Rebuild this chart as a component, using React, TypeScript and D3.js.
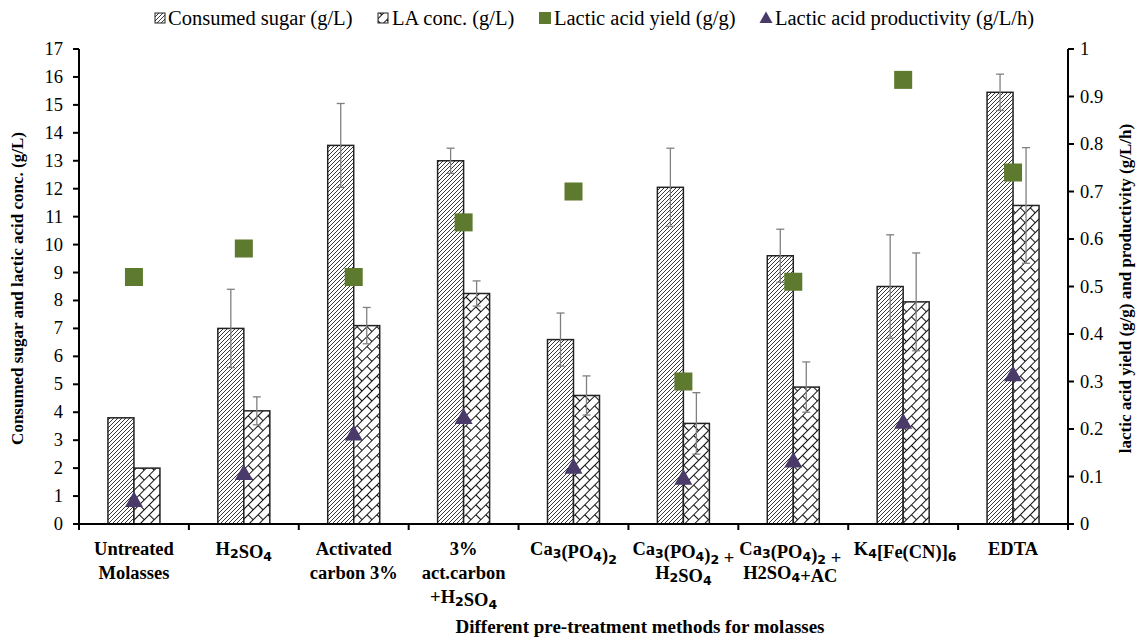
import React from 'react';
import * as d3 from 'd3';

// "_" marks the next character as a subscript
const categories = [
  ['Untreated', 'Molasses'],
  ['H_2SO_4'],
  ['Activated', 'carbon 3%'],
  ['3%', 'act.carbon', '+H_2SO_4'],
  ['Ca_3(PO_4)_2'],
  ['Ca_3(PO_4)_2 +', 'H_2SO_4'],
  ['Ca_3(PO_4)_2 +', 'H2SO_4+AC'],
  ['K_4[Fe(CN)]_6'],
  ['EDTA'],
];

const consumedSugar = [3.8, 7.0, 13.55, 13.0, 6.6, 12.05, 9.6, 8.5, 15.45];
const consumedSugarErr = [0, 1.4, 1.5, 0.45, 0.95, 1.4, 0.95, 1.85, 0.65];
const laConc = [2.0, 4.05, 7.1, 8.25, 4.6, 3.6, 4.9, 7.95, 11.4];
const laConcErr = [0, 0.5, 0.65, 0.45, 0.7, 1.1, 0.9, 1.75, 2.07];
const yieldVals = [0.52, 0.58, 0.52, 0.635, 0.7, 0.3, 0.51, 0.935, 0.74];
const productivity = [0.05, 0.107, 0.19, 0.225, 0.12, 0.097, 0.133, 0.215, 0.315];

const leftTicks = d3.range(0, 18, 1);
const rightTicks = d3.range(0, 11, 1).map((d) => d / 10);

const W = 1137;
const H = 637;
const M = { left: 79, right: 1068, top: 49, bottom: 524 };
const FONT = '"Liberation Serif", "Times New Roman", serif';
const GREEN = '#5e7a2f';
const PURPLE = '#4a3a6a';
const ERR = '#808080';

function richLine(s: string) {
  const parts: React.ReactNode[] = [];
  let buf = '';
  let k = 0;
  for (let i = 0; i < s.length; i++) {
    if (s[i] === '_' && i + 1 < s.length) {
      if (buf) parts.push(<tspan key={k++}>{buf}</tspan>);
      buf = '';
      parts.push(
        <tspan key={k++} fontFamily="DejaVu Sans" fontSize={12.5} dy={3}>
          {s[i + 1]}
        </tspan>
      );
      parts.push(<tspan key={k++} dy={-3}>{''}</tspan>);
      i++;
    } else {
      buf += s[i];
    }
  }
  if (buf) parts.push(<tspan key={k++}>{buf}</tspan>);
  return parts;
}

export default function App() {
  const x = d3
    .scaleBand<number>()
    .domain(categories.map((_, i) => i))
    .range([M.left, M.right])
    .padding(0);
  const yL = d3.scaleLinear().domain([0, 17]).range([M.bottom, M.top]);
  const yR = d3.scaleLinear().domain([0, 1]).range([M.bottom, M.top]);
  const bw = 26;
  const center = (i: number) => (x(i) as number) + x.bandwidth() / 2;

  const errBar = (cx: number, v: number, e: number, key: string) =>
    e > 0 ? (
      <g key={key} stroke={ERR} strokeWidth={1.3}>
        <line x1={cx} x2={cx} y1={yL(v + e)} y2={yL(v - e)} />
        <line x1={cx - 4} x2={cx + 4} y1={yL(v + e)} y2={yL(v + e)} />
        <line x1={cx - 4} x2={cx + 4} y1={yL(v - e)} y2={yL(v - e)} />
      </g>
    ) : null;

  const tri = (cx: number, cy: number, s = 9) =>
    `M${cx},${cy - s} L${cx + s},${cy + s * 0.75} L${cx - s},${cy + s * 0.75} Z`;

  const boundaries = d3.range(0, categories.length + 1).map((i) =>
    i < categories.length ? (x(i) as number) : M.right
  );

  return (
    <svg width={W} height={H} style={{ position: 'absolute', left: 0, top: 0 }} fontFamily={FONT}>
      <defs>
        <pattern id="hatch" patternUnits="userSpaceOnUse" width={4} height={4}>
          <rect width={4} height={4} fill="#fff" />
          <path d="M-1,1 l2,-2 M0,4 l4,-4 M3,5 l2,-2" stroke="#222" strokeWidth={0.9} />
        </pattern>
        <pattern
          id="weave"
          patternUnits="userSpaceOnUse"
          width={14}
          height={14}
          patternTransform="rotate(-45)"
        >
          <rect width={14} height={14} fill="#fff" />
          <path
            d="M0,0.5 H14 M0,7.5 H14 M0.5,0.5 V7.5 M7.5,7.5 V14"
            stroke="#111"
            strokeWidth={1.1}
            fill="none"
          />
        </pattern>
      </defs>
      <rect width={W} height={H} fill="#fff" />

      {/* legend */}
      <g fontSize={20.5}>
        <rect x={155} y={13} width={10} height={10} fill="url(#hatch)" stroke="#222" strokeWidth={1} />
        <text x={168} y={25}>Consumed sugar (g/L)</text>
        <rect x={378} y={13} width={10} height={10} fill="url(#weave)" stroke="#222" strokeWidth={1} />
        <text x={392} y={25}>LA conc. (g/L)</text>
        <rect x={539} y={12} width={12} height={12} fill={GREEN} />
        <text x={554} y={25}>Lactic acid yield (g/g)</text>
        <path d={tri(766, 18, 6.5)} fill={PURPLE} />
        <text x={775} y={25}>Lactic acid productivity (g/L/h)</text>
      </g>

      {/* bars */}
      {categories.map((_, i) => {
        const cx = center(i);
        return (
          <g key={'b' + i}>
            <rect
              x={cx - bw}
              y={yL(consumedSugar[i])}
              width={bw}
              height={M.bottom - yL(consumedSugar[i])}
              fill="url(#hatch)"
              stroke="#222"
              strokeWidth={1.5}
            />
            <rect
              x={cx}
              y={yL(laConc[i])}
              width={bw}
              height={M.bottom - yL(laConc[i])}
              fill="url(#weave)"
              stroke="#222"
              strokeWidth={1.5}
            />
          </g>
        );
      })}
      {categories.map((_, i) => errBar(center(i) - bw / 2, consumedSugar[i], consumedSugarErr[i], 'es' + i))}
      {categories.map((_, i) => errBar(center(i) + bw / 2, laConc[i], laConcErr[i], 'el' + i))}

      {/* yield & productivity markers */}
      {categories.map((_, i) => (
        <rect
          key={'y' + i}
          x={center(i) - 9}
          y={yR(yieldVals[i]) - 9}
          width={18}
          height={18}
          fill={GREEN}
        />
      ))}
      {categories.map((_, i) => (
        <path key={'p' + i} d={tri(center(i), yR(productivity[i]))} fill={PURPLE} />
      ))}

      {/* axes */}
      <g stroke="#000" strokeWidth={2}>
        <line x1={M.left} x2={M.left} y1={M.top} y2={M.bottom + 4} />
        <line x1={M.right} x2={M.right} y1={M.top} y2={M.bottom + 4} />
        <line x1={M.left - 6} x2={M.right + 6} y1={M.bottom} y2={M.bottom} />
        {leftTicks.map((t) => (
          <line key={'lt' + t} x1={M.left - 6} x2={M.left} y1={yL(t)} y2={yL(t)} />
        ))}
        {rightTicks.map((t) => (
          <line key={'rt' + t} x1={M.right} x2={M.right + 6} y1={yR(t)} y2={yR(t)} />
        ))}
        {boundaries.map((b, i) => (
          <line key={'xt' + i} x1={b} x2={b} y1={M.bottom} y2={M.bottom + 6} />
        ))}
      </g>
      <g fontSize={18.5} textAnchor="end">
        {leftTicks.map((t) => (
          <text key={'ll' + t} x={M.left - 16} y={yL(t) + 6}>
            {t}
          </text>
        ))}
      </g>
      <g fontSize={18.5} textAnchor="start">
        {rightTicks.map((t) => (
          <text key={'rl' + t} x={M.right + 12} y={yR(t) + 6}>
            {t}
          </text>
        ))}
      </g>

      {/* category labels */}
      <g fontSize={18.5} fontWeight="bold" textAnchor="middle">
        {categories.map((lines, i) =>
          lines.map((ln, j) => (
            <text key={'c' + i + '-' + j} x={center(i) - (i === 6 ? 3 : i === 7 ? -2 : 0)} y={555 + j * 24}>
              {richLine(ln)}
            </text>
          ))
        )}
      </g>

      {/* axis titles */}
      <text x={640} y={633} fontSize={19} fontWeight="bold" textAnchor="middle">
        Different pre-treatment methods for molasses
      </text>
      <text
        transform={`translate(23,${(M.top + M.bottom) / 2 + 2}) rotate(-90)`}
        fontSize={17}
        fontWeight="bold"
        textAnchor="middle"
      >
        Consumed sugar and lactic acid conc. (g/L)
      </text>
      <text
        transform={`translate(1131,${(M.top + M.bottom) / 2 + 2}) rotate(-90)`}
        fontSize={17}
        fontWeight="bold"
        textAnchor="middle"
      >
        lactic acid yield (g/g) and productivity (g/L/h)
      </text>
    </svg>
  );
}
